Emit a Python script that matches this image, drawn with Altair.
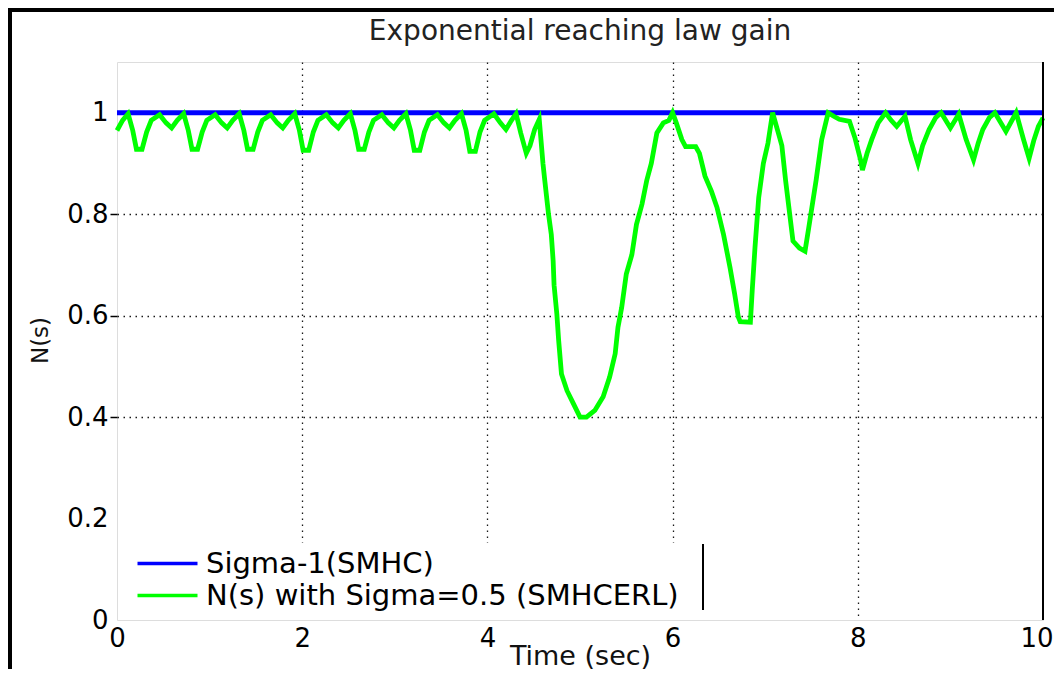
import altair as alt
import pandas as pd

# ---------------- data ----------------
label_blue = "Sigma-1(SMHC)"
label_green = "N(s) with Sigma=0.5 (SMHCERL)"

sigma1_time = [0.0, 10.0]
sigma1_gain = [1.0, 1.0]

ns_time = [
    0.00, 0.06, 0.12, 0.17, 0.21, 0.27, 0.32, 0.37, 0.46, 0.53, 0.59, 0.65,
    0.72, 0.77, 0.81, 0.87, 0.92, 0.97, 1.06, 1.13, 1.19, 1.25,
    1.32, 1.37, 1.41, 1.47, 1.52, 1.57, 1.66, 1.73, 1.79, 1.85,
    1.92, 1.97, 2.01, 2.07, 2.12, 2.17, 2.26, 2.33, 2.39, 2.45,
    2.52, 2.57, 2.61, 2.67, 2.72, 2.77, 2.86, 2.93, 2.99, 3.05,
    3.12, 3.17, 3.21, 3.27, 3.32, 3.37, 3.46, 3.53, 3.59, 3.65,
    3.72, 3.77, 3.81, 3.87, 3.92, 3.97, 4.07, 4.14, 4.20, 4.26,
    4.31, 4.36, 4.42, 4.46, 4.51, 4.56,
    4.60, 4.62, 4.66, 4.69, 4.71, 4.72, 4.75, 4.77, 4.80, 4.86, 4.93,
    5.00, 5.07, 5.16, 5.25, 5.32, 5.38, 5.41, 5.45, 5.50, 5.56, 5.61,
    5.67, 5.72, 5.77, 5.83, 5.90, 5.96, 6.00, 6.04, 6.10, 6.14, 6.25,
    6.29, 6.35, 6.42, 6.48, 6.55, 6.62, 6.67, 6.71, 6.73, 6.84, 6.86,
    6.89, 6.93, 6.98, 7.03, 7.08, 7.15, 7.18, 7.22, 7.30, 7.37, 7.43,
    7.47, 7.55, 7.61, 7.68, 7.74, 7.80, 7.91, 7.97, 8.03, 8.05, 8.10,
    8.15, 8.22, 8.30, 8.36, 8.42, 8.51, 8.57, 8.65, 8.70, 8.77, 8.84,
    8.90, 9.00, 9.09, 9.17, 9.25, 9.30, 9.35, 9.42, 9.48, 9.60, 9.71,
    9.79, 9.85, 9.90, 9.95, 10.00,
]
ns_gain = [
    0.965, 0.985, 0.998, 0.965, 0.928, 0.928, 0.962, 0.985, 0.996, 0.980, 0.970, 0.985,
    0.998, 0.965, 0.928, 0.928, 0.962, 0.985, 0.996, 0.980, 0.970, 0.985,
    0.998, 0.965, 0.928, 0.928, 0.962, 0.985, 0.996, 0.980, 0.970, 0.985,
    0.998, 0.965, 0.926, 0.926, 0.962, 0.985, 0.996, 0.980, 0.970, 0.985,
    0.998, 0.965, 0.928, 0.928, 0.962, 0.985, 0.996, 0.980, 0.970, 0.985,
    0.998, 0.965, 0.926, 0.926, 0.962, 0.985, 0.996, 0.980, 0.970, 0.985,
    0.998, 0.965, 0.924, 0.924, 0.962, 0.985, 0.998, 0.980, 0.967, 0.985,
    0.998, 0.960, 0.920, 0.935, 0.967, 0.987,
    0.900, 0.866, 0.800, 0.760, 0.708, 0.660, 0.603, 0.550, 0.485, 0.452, 0.426,
    0.400, 0.400, 0.413, 0.440, 0.479, 0.525, 0.577, 0.616, 0.682, 0.720, 0.780,
    0.820, 0.866, 0.900, 0.960, 0.980, 0.985, 1.000, 0.980, 0.947, 0.933, 0.933,
    0.920, 0.875, 0.845, 0.813, 0.760, 0.695, 0.643, 0.597, 0.588, 0.587, 0.650,
    0.735, 0.833, 0.900, 0.940, 1.000, 0.955, 0.935, 0.867, 0.747, 0.733, 0.727,
    0.773, 0.867, 0.947, 1.000, 0.993, 0.987, 0.983, 0.950, 0.907, 0.887, 0.920,
    0.947, 0.980, 1.000, 0.985, 0.973, 0.993, 0.947, 0.900, 0.935, 0.967, 0.990,
    1.000, 0.970, 0.997, 0.947, 0.907, 0.940, 0.967, 0.990, 1.000, 0.963, 1.000,
    0.947, 0.910, 0.945, 0.973, 0.990,
]

x_ticks = [0, 2, 4, 6, 8, 10]
y_ticks = [0, 0.2, 0.4, 0.6, 0.8, 1]

title_text = "Exponential reaching law gain"
x_title = "Time (sec)"
y_title = "N(s)"

FONT = "DejaVu Sans"

df_blue = pd.DataFrame({"t": sigma1_time, "v": sigma1_gain, "series": label_blue})
df_green = pd.DataFrame({"t": ns_time, "v": ns_gain, "series": label_green})
df_right = pd.DataFrame({"t": [10.0], "v0": [0.0], "v1": [1.1]})

x_scale = alt.Scale(domain=[0, 10], nice=False, zero=False)
y_scale = alt.Scale(domain=[0, 1.1], nice=False, zero=False)
color_scale = alt.Scale(domain=[label_blue, label_green], range=["#0000ff", "#00ff00"])

x_axis = alt.Axis(
    values=x_ticks, format="d", title=x_title, domain=False, ticks=False,
    labelFlush=False,
    labelAlign={"condition": {"test": "datum.value == 10", "value": "right"}, "value": "center"},
    labelOffset={"condition": {"test": "datum.value == 10", "value": 10}, "value": 0},
    grid=True, gridColor="black", gridDash=[1.5, 4.5], gridWidth=1.3,
    gridOpacity={"condition": {"test": "datum.value == 0 || datum.value == 10", "value": 0}, "value": 0.9},
    labelFont=FONT, labelFontSize=26, labelColor="black", labelPadding=5,
    titleFont=FONT, titleFontSize=27, titleFontWeight="normal", titleColor="#111",
    titleX=463, titleY=44, titleBaseline="alphabetic", titleAlign="center",
)
y_axis = alt.Axis(
    values=y_ticks, title=y_title, format="~g", domain=False,
    ticks=True, tickSize=7, tickColor="black", tickWidth=1.5,
    tickOpacity={"condition": {"test": "datum.value < 0.3 || datum.value > 0.9", "value": 0}, "value": 1},
    grid=True, gridColor="black", gridDash=[1.5, 4.5], gridWidth=1.3,
    gridOpacity={"condition": {"test": "datum.value < 0.3", "value": 0}, "value": 0.9},
    labelFont=FONT, labelFontSize=26, labelColor="black", labelPadding=2,
    titleFont=FONT, titleFontSize=23, titleFontWeight="normal", titleColor="#111",
    titleX=-70, titleY=278, titleAngle=270, titleAlign="center", titleBaseline="alphabetic",
)

legend = alt.Legend(
    orient="none", legendX=30, legendY=481, title=None,
    symbolType="M-3,0H3", symbolSize=400, symbolStrokeWidth=3.5,
    labelFont=FONT, labelFontSize=29, labelColor="black", labelOffset=24,
    labelLimit=1000, rowPadding=2, padding=6, fillColor="white",
)

blue = alt.Chart(df_blue).mark_line(strokeWidth=5).encode(
    x=alt.X("t:Q", scale=x_scale, axis=x_axis),
    y=alt.Y("v:Q", scale=y_scale, axis=y_axis),
    color=alt.Color("series:N", scale=color_scale, legend=legend),
)
green = alt.Chart(df_green).mark_line(strokeWidth=4.8).encode(
    x=alt.X("t:Q", scale=x_scale),
    y=alt.Y("v:Q", scale=y_scale),
    color=alt.Color("series:N", scale=color_scale, legend=legend),
)
right_edge = alt.Chart(df_right).mark_rule(color="black", strokeWidth=2).encode(
    x=alt.X("t:Q", scale=x_scale),
    y=alt.Y("v0:Q", scale=y_scale),
    y2="v1:Q",
)
# decorative frame of the original figure and the legend box edge
frame_top = alt.Chart(df_right).mark_rule(color="black", strokeWidth=4).encode(
    x=alt.value(-109), x2=alt.value(940), y=alt.value(-52)
)
frame_left = alt.Chart(df_right).mark_rule(color="black", strokeWidth=4).encode(
    x=alt.value(-107), y=alt.value(-54), y2=alt.value(610)
)
legend_edge = alt.Chart(df_right).mark_rule(color="black", strokeWidth=2).encode(
    x=alt.value(586), y=alt.value(482), y2=alt.value(548)
)

chart = alt.layer(blue, green, right_edge, frame_top, frame_left, legend_edge).properties(
    width=926, height=558,
    padding={"left": 109, "top": 54, "right": 11, "bottom": 49},
    autosize=alt.AutoSizeParams(type="none"),
    title=alt.Title(
        title_text, anchor="middle", frame="group", orient="top", offset=0, dy=62,
        baseline="alphabetic", font=FONT, fontSize=28, fontWeight="normal", color="#222",
    ),
).configure_view(stroke=None).configure(background="white")

chart.save("out.html", embed_options={"renderer": "svg", "actions": False})
